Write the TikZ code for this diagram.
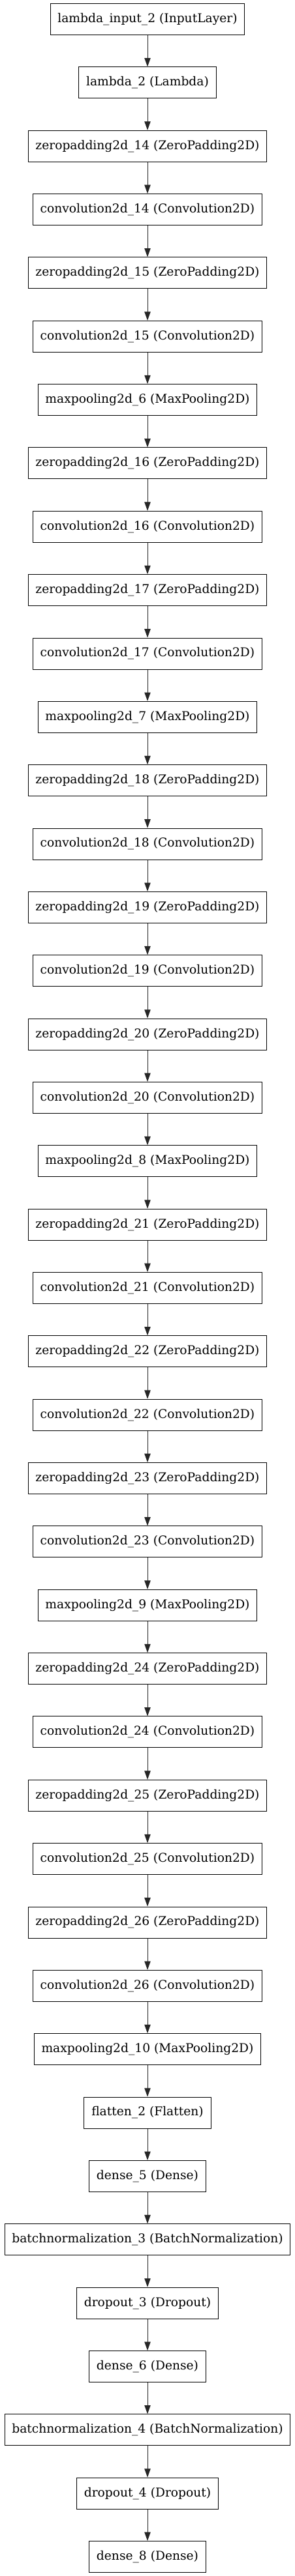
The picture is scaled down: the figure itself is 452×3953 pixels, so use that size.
\documentclass[tikz,border=0pt]{standalone}
\usepackage{fontspec}
\setmainfont{DejaVu Serif}
\usetikzlibrary{arrows.meta}
\begin{document}
\begin{tikzpicture}[x=0.75pt,y=-0.75pt,
  layer/.style={draw=black,line width=0.75pt,minimum height=36pt,inner xsep=8.5pt,inner ysep=0pt,font=\fontsize{14pt}{16pt}\selectfont,fill=white},
  link/.style={draw=black!85,line width=0.75pt,-{Triangle[length=10pt,width=7pt]}}]
\useasboundingbox[fill=white] (0,0) rectangle (452,3953);
\foreach \lab [count=\i] in {
lambda\_input\_2 (InputLayer),
lambda\_2 (Lambda),
zeropadding2d\_14 (ZeroPadding2D),
convolution2d\_14 (Convolution2D),
zeropadding2d\_15 (ZeroPadding2D),
convolution2d\_15 (Convolution2D),
maxpooling2d\_6 (MaxPooling2D),
zeropadding2d\_16 (ZeroPadding2D),
convolution2d\_16 (Convolution2D),
zeropadding2d\_17 (ZeroPadding2D),
convolution2d\_17 (Convolution2D),
maxpooling2d\_7 (MaxPooling2D),
zeropadding2d\_18 (ZeroPadding2D),
convolution2d\_18 (Convolution2D),
zeropadding2d\_19 (ZeroPadding2D),
convolution2d\_19 (Convolution2D),
zeropadding2d\_20 (ZeroPadding2D),
convolution2d\_20 (Convolution2D),
maxpooling2d\_8 (MaxPooling2D),
zeropadding2d\_21 (ZeroPadding2D),
convolution2d\_21 (Convolution2D),
zeropadding2d\_22 (ZeroPadding2D),
convolution2d\_22 (Convolution2D),
zeropadding2d\_23 (ZeroPadding2D),
convolution2d\_23 (Convolution2D),
maxpooling2d\_9 (MaxPooling2D),
zeropadding2d\_24 (ZeroPadding2D),
convolution2d\_24 (Convolution2D),
zeropadding2d\_25 (ZeroPadding2D),
convolution2d\_25 (Convolution2D),
zeropadding2d\_26 (ZeroPadding2D),
convolution2d\_26 (Convolution2D),
maxpooling2d\_10 (MaxPooling2D),
flatten\_2 (Flatten),
dense\_5 (Dense),
batchnormalization\_3 (BatchNormalization),
dropout\_3 (Dropout),
dense\_6 (Dense),
batchnormalization\_4 (BatchNormalization),
dropout\_4 (Dropout),
dense\_8 (Dense)}
{
  \node[layer] (n\i) at (226,{29.5+(\i-1)*97.35}) {\lab};
}
\foreach \i in {1,...,40}{
  \pgfmathtruncatemacro{\j}{\i+1}
  \draw[link] (n\i) -- (n\j);
}
\end{tikzpicture}
\end{document}
